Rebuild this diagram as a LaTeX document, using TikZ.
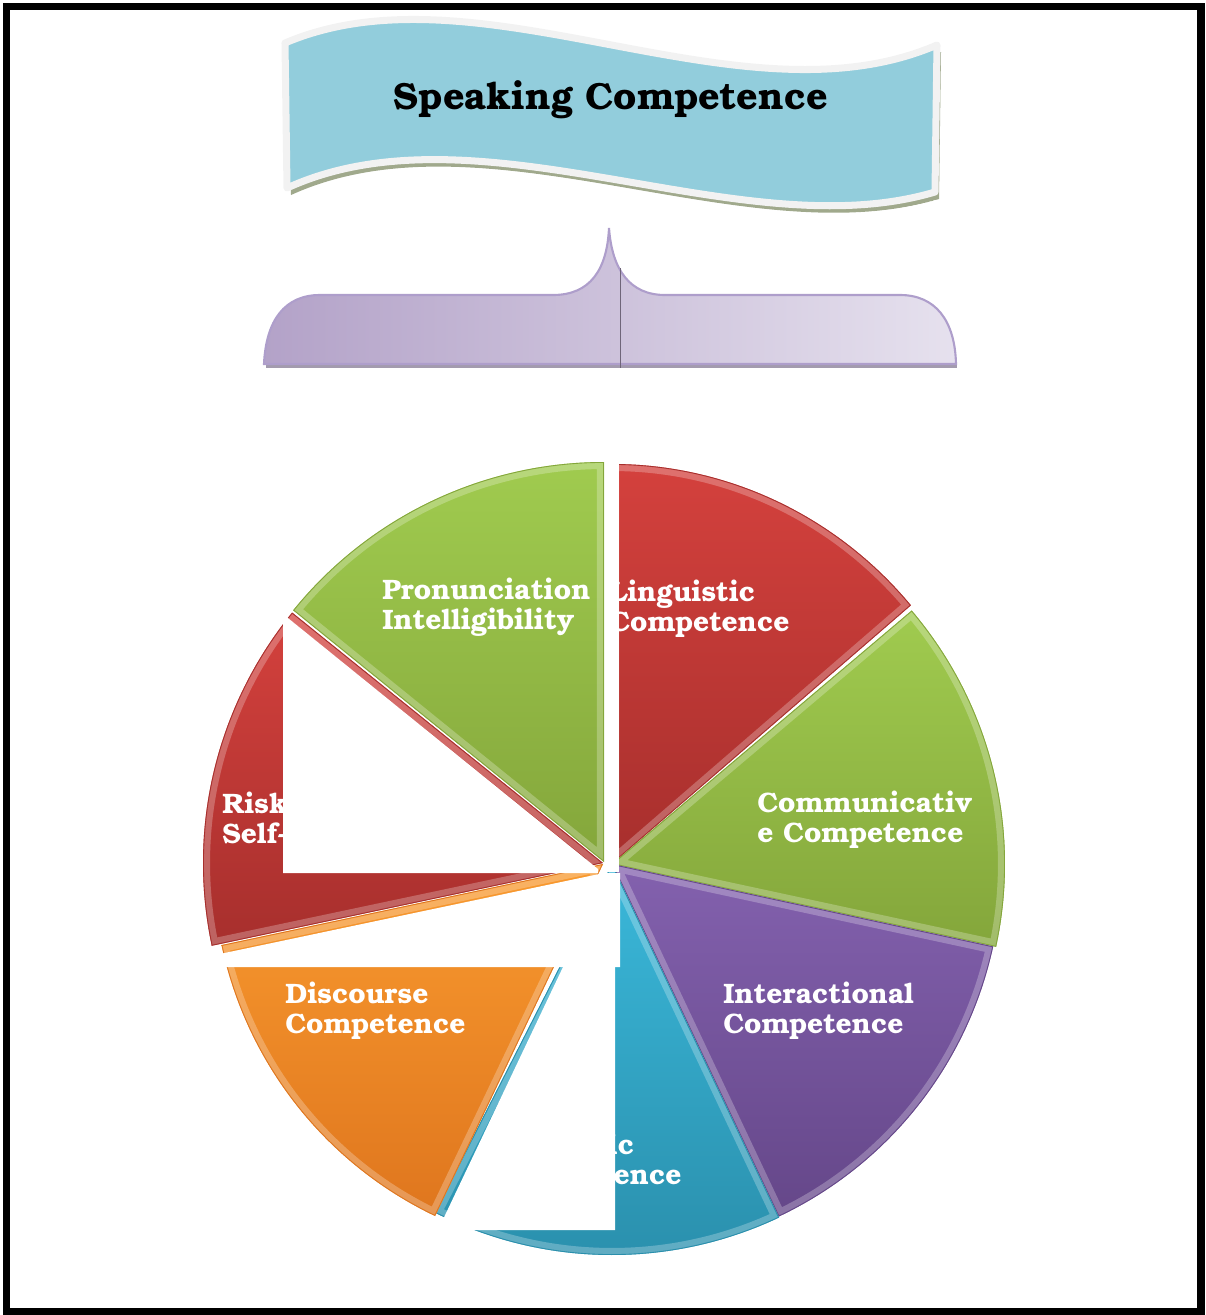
\documentclass[tikz,border=0pt]{standalone}
\usepackage{fontspec}
\setmainfont{texgyrebonum}[Extension=.otf, UprightFont=*-regular, BoldFont=*-bold, ItalicFont=*-italic, BoldItalicFont=*-bolditalic]

\definecolor{bnBlue}{HTML}{92CDDC}
\definecolor{bnEdge}{HTML}{F2F2F2}
\definecolor{bnShadow}{HTML}{A0A98C}
\definecolor{brDark}{HTML}{B3A2C8}
\definecolor{brMid}{HTML}{DDD6E8}
\definecolor{brLight}{HTML}{E6E1EE}
\definecolor{brEdge}{HTML}{AE9ECB}
\definecolor{brShadow}{HTML}{A39BAE}
\definecolor{brLine}{HTML}{6F6579}
\definecolor{redTop}{HTML}{D4413D}
\definecolor{redBot}{HTML}{A72F2D}
\definecolor{grnTop}{HTML}{A0CB4F}
\definecolor{grnBot}{HTML}{84A63B}
\definecolor{purTop}{HTML}{8361AE}
\definecolor{purBot}{HTML}{654789}
\definecolor{cyaTop}{HTML}{3AB8DA}
\definecolor{cyaBot}{HTML}{2A8FAC}
\definecolor{ornTop}{HTML}{F99A2F}
\definecolor{ornBot}{HTML}{DF761E}

\tikzset{
  lbl/.style={text=white, font=\bfseries\fontsize{16}{17}\selectfont, align=left, anchor=north west, inner sep=0pt},
  patch/.style={fill=white},
}

\begin{document}
\begin{tikzpicture}[x=0.02cm, y=0.02cm]
  \useasboundingbox (0,0) rectangle (1205,-1315);
  \draw[line width=4.5pt] (6.5,-6.5) rectangle (1201,-1311.5);

  % title banner
  \begin{scope}[shift={(4,-7)}]
    \fill[bnShadow] (285,-43) .. controls (480,40) and (740,-130) .. (937,-45) -- (935,-192)
      .. controls (740,-250) and (480,-100) .. (287,-188) -- cycle;
    \draw[white, line width=.4pt, dash pattern=on 2pt off 1pt] (289,-189) .. controls (480,-101) and (740,-251) .. (933,-193);
  \end{scope}
  \draw[bnEdge, fill=bnBlue, line width=4pt, line join=round] (285,-43) .. controls (480,40) and (740,-130) .. (937,-45)
    -- (935,-192) .. controls (740,-250) and (480,-100) .. (287,-188) -- cycle;
  \node[font=\bfseries\fontsize{21.5}{26}\selectfont] (title) at (611,-100) {Speaking Competence};

  % brace
  \fill[brShadow] (266,-361) rectangle (957,-368);
  \shadedraw[left color=brDark, middle color=brMid, right color=brLight, draw=brEdge, line width=1.2pt]
    (264,-364) .. controls (266,-320) and (285,-295) .. (320,-295) -- (553,-295)
    .. controls (590,-295) and (607,-270) .. (609,-228)
    .. controls (612,-270) and (630,-295) .. (665,-295) -- (900,-295)
    .. controls (935,-295) and (955,-320) .. (956,-364) -- cycle;
  \draw[brLine, line width=.5pt] (620,-268) -- (620,-368);

  % pie slices
  \foreach \cx/\cy/\a/\b/\rx/\ry/\ct/\cb in {
      604/862/90/141/400/400/grnTop/grnBot,
      612/864/40.3/90/392/400/redTop/redBot,
      612/864/-12.2/40.3/393/392/grnTop/grnBot,
      612/864/-64.7/-12.2/390/390/purTop/purBot,
      612/864/-117/-64.7/391/391/cyaTop/cyaBot,
      603/864/192/244.5/390/390/ornTop/ornBot,
      603/863/141/192/400/398/redTop/redBot}
  {
    \begin{scope}
      \clip (\cx,-\cy) -- ++({\a}:{\rx} and {\ry}) arc[start angle=\a, end angle=\b, x radius=\rx, y radius=\ry] -- cycle;
      \shade[top color=\ct, bottom color=\cb] (\cx,-\cy) -- ++({\a}:{\rx} and {\ry}) arc[start angle=\a, end angle=\b, x radius=\rx, y radius=\ry] -- cycle;
      \draw[white, opacity=.25, line width=8pt] (\cx,-\cy) -- ++({\a}:{\rx} and {\ry}) arc[start angle=\a, end angle=\b, x radius=\rx, y radius=\ry] -- cycle;
      \draw[\cb, line width=1pt] (\cx,-\cy) -- ++({\a}:{\rx} and {\ry}) arc[start angle=\a, end angle=\b, x radius=\rx, y radius=\ry] -- cycle;
    \end{scope}
  }

  % labels
  \node[lbl] (pron) at (382,-578) {Pronunciation\\Intelligibility};
  \node[lbl] (ling) at (609,-580) {Linguistic\\Competence};
  \node[lbl] (comm) at (757,-791) {Communicativ\\e Competence};
  \node[lbl] (inter) at (723,-982) {Interactional\\Competence};
  \node[lbl] (strat) at (501,-1133) {Strategic\\Competence};
  \node[lbl] (disc) at (285,-982) {Discourse\\Competence};
  \node[lbl] (risk) at (222,-792) {Risk-taking\\Self-confidence};

  % white patches
  \fill[patch] (607,-455) rectangle (619,-872);
  \fill[patch] (283,-614) -- (598,-869) -- (598,-873) -- (283,-873) -- cycle;
  \fill[patch] (215,-955) -- (604,-873) -- (620,-873) -- (620,-967) -- (215,-967) -- cycle;
  \fill[patch] (563,-967) -- (615,-967) -- (615,-1230) -- (438,-1230) -- cycle;
\end{tikzpicture}
\end{document}
